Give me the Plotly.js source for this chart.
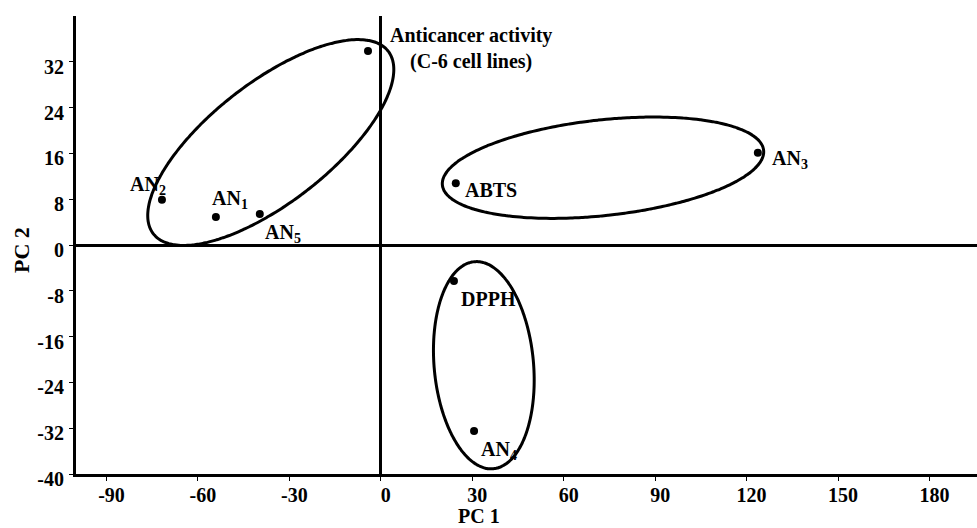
<!DOCTYPE html>
<html>
<head>
<meta charset="utf-8">
<script src="https://cdn.plot.ly/plotly-3.0.1.min.js"></script>
<style>html,body{margin:0;padding:0;background:#fff;}#chart{width:977px;height:528px;}</style>
</head>
<body>
<div id="chart"></div>
<script>
// ---- data ----
var pointNames = ["Anticancer", "AN2", "AN1", "AN5", "ABTS", "AN3", "DPPH", "AN4"];
var pointLabels = ["Anticancer activity<br>(C-6 cell lines)", "AN<sub>2</sub>", "AN<sub>1</sub>", "AN<sub>5</sub>", "ABTS", "AN<sub>3</sub>", "DPPH", "AN<sub>4</sub>"];
var pc1 = [-4.2, -71.8, -54.1, -39.7, 24.6, 123.7, 24.0, 30.6];
var pc2 = [33.9, 7.9, 4.9, 5.4, 10.8, 16.1, -6.3, -32.5];

// group ellipses: centre (PC1, PC2), semi-axes (in PC1 units), tilt (deg)
var ellCx = [-36.1, 72.9, 33.8];
var ellCy = [17.9, 13.5, -21.0];
var ellA = [48.8, 53.0, 34.1];
var ellB = [19.7, 15.7, 16.3];
var ellAngle = [37.9, 6.2, -84.8];

var xTickVals = [-90, -60, -30, 0, 30, 60, 90, 120, 150, 180];
var xTickText = ["-90", "-60", "-30", "0", "30", "60", "90", "120", "150", "180"];
var yTickVals = [-40, -32, -24, -16, -8, 0, 8, 16, 24, 32];
var yTickText = ["-40", "-32", "-24", "-16", "-8", "0", "8", "16", "24", "32"];

// ---- layout / style ----
var W = 977, H = 528;
var margin = {l: 76, r: 0, t: 16, b: 54};
var xRange = [-100, 195.6];
var yRange = [-40, 40];
var pxX = (W - margin.l - margin.r) / (xRange[1] - xRange[0]);
var pxY = (H - margin.t - margin.b) / (yRange[1] - yRange[0]);

var labelOffsets = [[20, -2], [-34, -14], [-6, -17], [3, 19], [7, 7], [12, 7], [5, 18], [5, 19]];
var FONT = "Liberation Serif, Times New Roman, serif";

var traces = [];
for (var e = 0; e < ellCx.length; e++) {
  var xs = [], ys = [];
  var th = ellAngle[e] * Math.PI / 180;
  for (var i = 0; i <= 240; i++) {
    var t = 2 * Math.PI * i / 240;
    var vx = ellA[e] * Math.cos(t) * Math.cos(th) - ellB[e] * Math.sin(t) * Math.sin(th);
    var vy = ellA[e] * Math.cos(t) * Math.sin(th) + ellB[e] * Math.sin(t) * Math.cos(th);
    xs.push(ellCx[e] + vx);
    ys.push(ellCy[e] + vy * pxX / pxY);
  }
  traces.push({x: xs, y: ys, mode: "lines", line: {color: "#000", width: 3, shape: "spline"}, hoverinfo: "skip", showlegend: false});
}
traces.push({x: pc1, y: pc2, text: pointNames, mode: "markers", marker: {color: "#000", size: 8}, showlegend: false, hoverinfo: "text"});

var annotations = [];
for (var k = 0; k < pc1.length; k++) {
  annotations.push({
    x: pc1[k], y: pc2[k], xref: "x", yref: "y", text: pointLabels[k], showarrow: false,
    xanchor: "left", yanchor: "middle", align: "center",
    xshift: labelOffsets[k][0], yshift: -labelOffsets[k][1],
    font: {family: FONT, size: 20, color: "#000", weight: 700}
  });
}
annotations.push({text: "PC 1", xref: "paper", yref: "paper", x: (479 - margin.l) / (W - margin.l - margin.r), y: 0, yshift: -42,
  xanchor: "center", yanchor: "middle", showarrow: false, font: {family: FONT, size: 20, color: "#000", weight: 700}});
annotations.push({text: "PC 2", xref: "paper", yref: "paper", x: 0, xshift: -55, y: (H - margin.b - 250) / (H - margin.t - margin.b),
  xanchor: "center", yanchor: "middle", textangle: -90, showarrow: false, font: {family: FONT, size: 22, color: "#000", weight: 700}});

var layout = {
  width: W, height: H, margin: margin,
  paper_bgcolor: "#fff", plot_bgcolor: "#fff",
  showlegend: false,
  xaxis: {range: xRange, tickvals: xTickVals, ticktext: xTickText, showgrid: false,
    zeroline: true, zerolinecolor: "#000", zerolinewidth: 3,
    showline: true, linecolor: "#000", linewidth: 3, ticks: "outside", ticklen: 4, tickwidth: 1, tickcolor: "#000",
    ticklabelshift: 5, ticklabelstandoff: -3,
    tickfont: {family: FONT, size: 20, color: "#000", weight: 700}},
  yaxis: {range: yRange, tickvals: yTickVals, ticktext: yTickText, showgrid: false,
    zeroline: true, zerolinecolor: "#000", zerolinewidth: 3,
    showline: true, linecolor: "#000", linewidth: 3, ticks: "outside", ticklen: 4, tickwidth: 1, tickcolor: "#000",
    ticklabelshift: 5, ticklabelstandoff: 1,
    tickfont: {family: FONT, size: 20, color: "#000", weight: 700}},
  annotations: annotations
};

Plotly.newPlot("chart", traces, layout, {displayModeBar: false, staticPlot: true});
</script>
</body>
</html>
